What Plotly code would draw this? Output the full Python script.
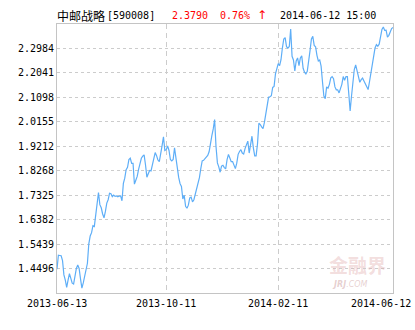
import pandas as pd
import plotly.graph_objects as go

fund_name = "中邮战略"
fund_code = "[590008]"
last_price = "2.3790"
change_pct = "0.76%"
change_arrow = "↑"
timestamp = "2014-06-12 15:00"

start_date = "2013-06-13"
end_date = "2014-06-12"
holidays = ["2013-09-19", "2013-09-20", "2013-10-01", "2013-10-02", "2013-10-03",
            "2013-10-04", "2013-10-07", "2014-01-01", "2014-01-31", "2014-02-03",
            "2014-02-04", "2014-02-05", "2014-02-06", "2014-04-07", "2014-05-01",
            "2014-05-02", "2014-06-02"]

values = [
    1.447, 1.501, 1.500, 1.499, 1.480, 1.425, 1.405, 1.377, 1.405, 1.430,
    1.412, 1.393, 1.390, 1.430, 1.450, 1.463, 1.450, 1.410, 1.374, 1.394,
    1.420, 1.444, 1.470, 1.545, 1.575, 1.588, 1.615, 1.612, 1.650, 1.703,
    1.743, 1.696, 1.684, 1.660, 1.645, 1.670, 1.702, 1.715, 1.740, 1.738,
    1.727, 1.733, 1.728, 1.730, 1.726, 1.729, 1.730, 1.711, 1.778, 1.798,
    1.831, 1.840, 1.870, 1.875, 1.855, 1.855, 1.775, 1.790, 1.805, 1.832,
    1.852, 1.875, 1.883, 1.888, 1.850, 1.802, 1.815, 1.828, 1.826, 1.848,
    1.874, 1.897, 1.885, 1.868, 1.862, 1.888, 1.924, 1.958, 1.905, 1.908,
    1.922, 1.905, 1.870, 1.865, 1.870, 1.915, 1.875, 1.823, 1.801, 1.777,
    1.766, 1.718, 1.732, 1.690, 1.682, 1.694, 1.722, 1.725, 1.707, 1.715,
    1.736, 1.752, 1.768, 1.800, 1.835, 1.865, 1.867, 1.872, 1.879, 1.886,
    1.900, 1.936, 1.962, 1.988, 2.024, 1.920, 1.857, 1.842, 1.821, 1.845,
    1.848, 1.839, 1.834, 1.870, 1.890, 1.876, 1.862, 1.862, 1.850, 1.835,
    1.856, 1.890, 1.901, 1.908, 1.895, 1.891, 1.912, 1.930, 1.941, 1.895,
    1.929, 1.960, 1.915, 1.884, 1.884, 1.930, 2.010, 2.005, 1.996, 1.989,
    2.013, 2.048, 2.080, 2.110, 2.112, 2.116, 2.148, 2.152, 2.200, 2.226,
    2.240, 2.232, 2.255, 2.300, 2.335, 2.340, 2.305, 2.300, 2.306, 2.373,
    2.268, 2.254, 2.212, 2.250, 2.262, 2.232, 2.262, 2.270, 2.222, 2.207,
    2.200, 2.210, 2.245, 2.290, 2.335, 2.345, 2.310, 2.305, 2.272, 2.250,
    2.254, 2.230, 2.170, 2.115, 2.105, 2.150, 2.145, 2.160, 2.185, 2.190,
    2.182, 2.150, 2.139, 2.139, 2.127, 2.140, 2.160, 2.190, 2.176, 2.190,
    2.190, 2.125, 2.057, 2.115, 2.170, 2.217, 2.235, 2.214, 2.193, 2.168,
    2.178, 2.184, 2.173, 2.161, 2.147, 2.140, 2.170, 2.205, 2.245, 2.280,
    2.300, 2.313, 2.307, 2.315, 2.345, 2.372, 2.381, 2.368, 2.369, 2.342,
    2.349, 2.363, 2.375, 2.379,
]

y_ticks = [1.4496, 1.5439, 1.6382, 1.7325, 1.8268, 1.9212, 2.0155, 2.1098, 2.2041, 2.2984]
y_min, y_max = 1.3553, 2.3927
x_labels = ["2013-06-13", "2013-10-11", "2014-02-11", "2014-06-12"]

dates = [d.strftime("%Y-%m-%d") for d in pd.bdate_range(start_date, end_date)
         if d.strftime("%Y-%m-%d") not in holidays]
n = min(len(dates), len(values))
dates = dates[:n]
values = values[:n]
idx = list(range(n))

mono = "DejaVu Sans Mono, Noto Sans CJK SC"
fig = go.Figure()
fig.add_trace(go.Scatter(x=idx, y=values, mode="lines", text=dates,
                         line=dict(color="#5eaef7", width=1.2), hoverinfo="text+y"))

grid_pos = [dates.index(d) for d in x_labels[1:3]]

L, R, T, B, W, H = 57, 22, 24, 37, 415, 330
pw = W - L - R

fig.update_layout(
    width=W, height=H, margin=dict(l=L, r=R, t=T, b=B),
    paper_bgcolor="white", plot_bgcolor="white", showlegend=False,
    font=dict(family=mono, size=10, color="#000"),
    xaxis=dict(range=[0, n - 1], tickvals=grid_pos, showticklabels=False, ticks="",
               showgrid=True, gridcolor="#cccccc", griddash="5px,4px", gridwidth=1,
               zeroline=False, showline=True, linecolor="#c4c4c4", linewidth=1, mirror=True),
    yaxis=dict(range=[y_min, y_max], tickvals=y_ticks,
               ticktext=[f"{v:.4f}" for v in y_ticks], ticks="",
               showgrid=True, gridcolor="#cccccc", griddash="3px,3px", gridwidth=1,
               zeroline=False, showline=True, linecolor="#c4c4c4", linewidth=1, mirror=True,
               tickfont=dict(family=mono, size=10, color="#000")),
)

def px(xp):
    return (xp - L) / pw

anns = []
# title
title_parts = [(fund_name, 55, "#000", "Noto Sans CJK SC", 12),
               (fund_code, 105, "#000", mono, 10),
               (last_price, 170, "#ff0000", mono, 10),
               (change_pct, 218, "#ff0000", mono, 10),
               (change_arrow, 255, "#ff0000", "DejaVu Sans", 12),
               (timestamp, 278, "#000", mono, 10)]
for txt, xp, col, fam, sz in title_parts:
    anns.append(dict(text=txt, xref="paper", yref="paper", x=px(xp), y=1, xanchor="left",
                     yanchor="middle", yshift=9, showarrow=False,
                     font=dict(family=fam, size=sz, color=col)))
# x labels
for i, lab in enumerate(x_labels):
    shift = -12 if i == len(x_labels) - 1 else 0
    anns.append(dict(text=lab, xref="x", yref="paper", x=dates.index(lab), y=0,
                     xanchor="center", yanchor="top", yshift=-3, xshift=shift,
                     showarrow=False, font=dict(family=mono, size=10, color="#000")))
# watermark
anns.append(dict(text="<b>金融界</b>", xref="paper", yref="paper", x=px(327), y=0, xanchor="left",
                 yanchor="bottom", yshift=13, showarrow=False,
                 font=dict(family="Noto Sans CJK SC", size=19, color="rgba(225,170,170,0.4)")))
anns.append(dict(text="<i><b>JRJ</b>.COM</i>", xref="paper", yref="paper", x=px(330), y=0,
                 xanchor="left", yanchor="bottom", yshift=2, showarrow=False,
                 font=dict(family="DejaVu Sans", size=8, color="rgba(200,150,150,0.45)")))
fig.update_layout(annotations=anns)

fig.write_html("out.html")
